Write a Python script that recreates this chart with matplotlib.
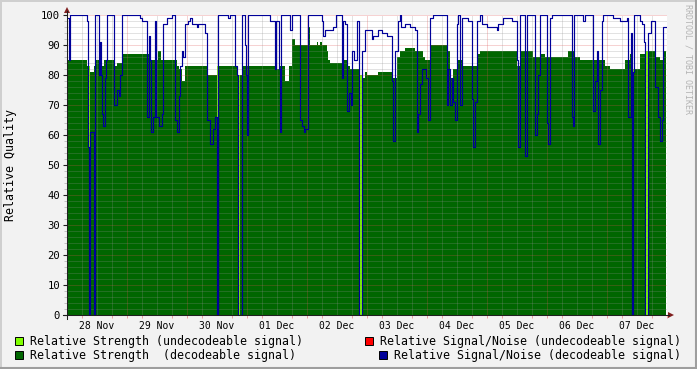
import numpy as np
import matplotlib
matplotlib.use("Agg")
import matplotlib.pyplot as plt
from matplotlib.patches import Rectangle, Polygon
from matplotlib.lines import Line2D

# ---------------- data ----------------
day_labels = ["28 Nov", "29 Nov", "30 Nov", "01 Dec", "02 Dec",
              "03 Dec", "04 Dec", "05 Dec", "06 Dec", "07 Dec"]
span_hours = 240.0
data_end = 239.6

# relative strength (hours since 28 Nov 00:00, value) - step data
strength_t = [0.0, 8.0, 9.2, 10.8, 11.2, 12.8, 14.8, 18.8, 20.0, 22.0,
              32.8, 36.4, 37.6, 44.0, 44.8, 46.0, 47.2, 56.0, 60.0, 68.0,
              70.0, 83.2, 85.2, 87.2, 88.8, 90.0, 91.2, 96.4, 97.2, 100.0,
              100.4, 101.2, 102.0, 104.0, 104.4, 105.2, 110.4, 112.0, 113.2, 117.2,
              118.0, 119.2, 120.0, 124.4, 130.4, 132.0, 133.2, 135.2, 139.2, 142.4,
              143.2, 145.2, 152.0, 153.2, 154.4, 156.4, 158.0, 164.0, 165.2, 180.0,
              181.2, 186.4, 189.2, 191.2, 200.4, 203.2, 205.2, 215.2, 217.2, 223.2,
              225.2, 226.4, 229.2, 231.2, 235.2, 237.2, 238.4]
strength_v = [85, 83, 81, 83, 85, 83, 85, 83, 84, 87,
              85, 88, 85, 83, 82, 78, 83, 80, 83, 80,
              83, 82, 83, 78, 83, 92, 90, 96, 90, 91,
              90, 91, 90, 88, 85, 84, 85, 83, 82, 80,
              79, 81, 80, 81, 79, 86, 88, 89, 88, 86,
              85, 90, 88, 79, 82, 85, 83, 87, 88, 83,
              88, 86, 87, 86, 88, 86, 85, 83, 82, 85,
              87, 82, 87, 88, 86, 85, 88]

# periods with undecodeable signal (hours)
undec_start = [8.6, 60.0, 68.6, 117.2, 226.4, 231.6]
undec_end = [9.0, 60.4, 69.0, 118.0, 226.8, 232.2]

# relative signal/noise (decodeable), step data
snr_t = [0.0, 0.8, 1.2, 8.0, 8.4, 8.7, 9.1, 10.8, 11.2, 12.8,
         13.2, 13.6, 13.8, 14.4, 15.2, 15.6, 16.0, 18.8, 20.0, 20.8,
         21.2, 22.0, 29.2, 30.0, 32.0, 32.8, 33.2, 33.6, 34.4, 35.2,
         35.6, 36.8, 38.0, 38.4, 40.0, 42.0, 43.2, 44.0, 44.8, 45.2,
         46.0, 46.4, 47.2, 48.4, 49.2, 50.0, 52.0, 52.4, 55.2, 56.0,
         57.2, 58.4, 59.2, 60.0, 60.4, 64.4, 65.2, 67.2, 68.0, 68.4,
         70.0, 71.2, 71.6, 72.0, 72.4, 81.2, 83.2, 83.6, 84.8, 85.2,
         85.6, 89.2, 90.0, 93.2, 94.0, 94.8, 95.2, 96.4, 102.0, 102.4,
         103.2, 106.4, 107.6, 110.0, 110.4, 111.2, 112.0, 112.8, 113.6, 114.0,
         114.8, 116.0, 116.8, 118.0, 119.2, 122.0, 122.4, 124.4, 126.0, 128.0,
         130.0, 130.4, 131.2, 132.4, 133.2, 133.6, 135.2, 137.2, 139.2, 140.0,
         140.4, 141.2, 142.0, 143.6, 144.4, 145.2, 146.4, 152.0, 152.4, 153.2,
         154.0, 154.4, 155.2, 156.0, 156.4, 157.2, 158.0, 160.4, 162.0, 162.4,
         163.2, 164.0, 165.2, 166.0, 168.0, 172.0, 172.4, 174.4, 178.0, 180.0,
         180.4, 181.2, 183.2, 184.0, 187.2, 188.0, 188.4, 189.2, 192.0, 192.4,
         193.2, 194.0, 202.0, 202.4, 202.8, 206.4, 207.2, 210.4, 211.2, 212.0,
         212.4, 213.2, 214.0, 214.4, 218.4, 221.2, 224.0, 224.4, 225.6, 226.0,
         226.4, 226.8, 229.2, 230.0, 230.8, 231.2, 232.4, 233.6, 235.2, 236.4,
         237.2, 238.0, 238.4]
snr_v = [99, 85, 100, 98, 56, 0, 61, 0, 100, 80,
         91, 80, 67, 63, 79, 85, 100, 70, 75, 73,
         80, 100, 99, 98, 66, 93, 85, 61, 66, 98,
         66, 63, 67, 97, 99, 100, 65, 61, 73, 83,
         88, 86, 97, 98, 99, 97, 96, 97, 94, 65,
         57, 62, 66, 0, 100, 99, 100, 83, 80, 0,
         100, 90, 80, 60, 100, 98, 82, 98, 82, 61,
         100, 95, 100, 65, 63, 61, 62, 100, 98, 93,
         95, 96, 100, 79, 98, 97, 68, 74, 70, 88,
         85, 98, 0, 88, 95, 92, 93, 95, 94, 93,
         78, 58, 88, 98, 100, 96, 97, 96, 95, 61,
         67, 77, 82, 79, 65, 99, 100, 70, 82, 70,
         79, 71, 65, 97, 100, 70, 99, 98, 72, 56,
         71, 98, 100, 97, 96, 95, 97, 99, 98, 85,
         56, 100, 53, 100, 60, 67, 80, 100, 64, 57,
         99, 100, 66, 63, 100, 98, 100, 68, 78, 88,
         57, 75, 98, 100, 99, 98, 99, 66, 94, 0,
         81, 100, 98, 97, 91, 0, 94, 98, 76, 66,
         58, 65, 96]

y_ticks = [0, 10, 20, 30, 40, 50, 60, 70, 80, 90, 100]

legend_labels = ["Relative Strength (undecodeable signal)",
                 "Relative Strength  (decodeable signal)",
                 "Relative Signal/Noise (undecodeable signal)",
                 "Relative Signal/Noise (decodeable signal)"]

# ---------------- style ----------------
W, H, DPI = 697, 369, 100
C_BACK = "#f2f2f2"
C_GRID = (0.56, 0.56, 0.56, 0.5)
C_MGRID = (0.87, 0.31, 0.31, 0.5)
C_ARROW = "#801f1f"
C_AXIS = "#1f1f1f"
C_GREEN = "#006600"
C_LGREEN = "#80ff00"
C_RED = "#ff0000"
C_BLUE = "#000099"
MONO = "DejaVu Sans Mono"


def fx(px):
    return px / W


def fy(py):
    return 1 - py / H


def step_eval(bt, bv, t):
    idx = np.searchsorted(np.asarray(bt), t, side="right") - 1
    return np.asarray(bv, dtype=float)[np.clip(idx, 0, len(bv) - 1)]


fig = plt.figure(figsize=(W / DPI, H / DPI), dpi=DPI, facecolor=C_BACK)
ax = fig.add_axes([fx(67), fy(315), 600 / W, 300 / H])
ax.set_facecolor("white")
ax.set_xlim(0, span_hours)
ax.set_ylim(0, 100)
for s in ax.spines.values():
    s.set_visible(False)

# areas
t_all = np.unique(np.concatenate([strength_t, undec_start, undec_end, [data_end]]))
s_all = step_eval(strength_t, strength_v, t_all)
mask = np.zeros_like(t_all, dtype=bool)
for a, b in zip(undec_start, undec_end):
    mask |= (t_all >= a - 1e-9) & (t_all < b - 1e-9)
s_dec = np.where(mask, 0.0, s_all)
s_und = np.where(mask, s_all, 0.0)
ax.fill_between(t_all, 0, s_dec, step="post", color=C_GREEN, lw=0, zorder=1)
ax.fill_between(t_all, 0, s_und, step="post", color=C_LGREEN, lw=0, zorder=1)

# grid
dash = (0, (1, 1))
for y in range(2, 101, 2):
    if y % 10:
        ax.axhline(y, color=C_GRID, lw=0.72, ls=dash, zorder=2)
    else:
        ax.axhline(y, color=C_MGRID, lw=0.72, ls=dash, zorder=2)
for h in range(6, 240, 6):
    if h % 24:
        ax.axvline(h, color=C_GRID, lw=0.72, ls=dash, zorder=2)
    else:
        ax.axvline(h, color=C_MGRID, lw=0.72, ls=dash, zorder=2)

# SNR line
tb = list(snr_t) + [data_end]
vb = list(snr_v) + [snr_v[-1]]
ax.step(tb, vb, where="post", color=C_BLUE, lw=0.85, zorder=3)

# ticks and labels
ax.set_yticks(y_ticks)
ax.set_yticklabels([str(v) for v in y_ticks], family=MONO, fontsize=7.6)
ax.set_yticks(range(0, 101, 2), minor=True)
ax.tick_params(axis="y", which="major", length=3, width=0.8, color=C_AXIS, pad=2)
ax.tick_params(axis="y", which="minor", length=2, width=0.7, color=C_GRID)
noon = [12 + 24 * i for i in range(len(day_labels))]
ax.set_xticks(noon)
ax.set_xticklabels(day_labels, family=MONO, fontsize=7.0)
ax.tick_params(axis="x", which="major", length=0, pad=4)
ax.set_xticks(range(0, 241, 6), minor=True)
ax.tick_params(axis="x", which="minor", length=2, width=0.7, color=C_MGRID)

fig.text(fx(11), fy(165), "Relative Quality", rotation=90, family=MONO,
         fontsize=8.4, ha="center", va="center")
fig.text(fx(688), fy(4), "RRDTOOL / TOBI OETIKER", rotation=-90, family=MONO,
         fontsize=6.0, ha="center", va="top", color="#b4b4b4")

# axes lines + arrows
fig.add_artist(Line2D([fx(63), fx(669)], [fy(315), fy(315)], color=C_AXIS, lw=0.75))
fig.add_artist(Line2D([fx(67), fx(67)], [fy(319), fy(11)], color=C_AXIS, lw=0.75))
fig.add_artist(Polygon([(fx(668), fy(312)), (fx(668), fy(318)), (fx(674), fy(315))],
                       closed=True, color=C_ARROW, lw=0))
fig.add_artist(Polygon([(fx(64), fy(13)), (fx(70), fy(13)), (fx(67), fy(7))],
                       closed=True, color=C_ARROW, lw=0))

# frame shading
fig.add_artist(Line2D([fx(0), fx(697)], [fy(0.5), fy(0.5)], color="#cfcfcf", lw=1.4))
fig.add_artist(Line2D([fx(0.5), fx(0.5)], [fy(0), fy(369)], color="#cfcfcf", lw=1.4))
fig.add_artist(Line2D([fx(0), fx(697)], [fy(368), fy(368)], color="#9e9e9e", lw=1.5))
fig.add_artist(Line2D([fx(696), fx(696)], [fy(0), fy(369)], color="#9e9e9e", lw=1.5))

# legend
legend_items = [
    (15, 337, C_LGREEN, 30, 344.5, legend_labels[0]),
    (15, 351, C_GREEN, 30, 358.5, legend_labels[1]),
    (365, 337, C_RED, 380, 344.5, legend_labels[2]),
    (379, 351, C_BLUE, 394, 358.5, legend_labels[3]),
]
for bx, by, col, tx, ty, lab in legend_items:
    fig.add_artist(Rectangle((fx(bx), fy(by + 8)), 8 / W, 8 / H,
                             facecolor=col, edgecolor="black", lw=0.7,
                             transform=fig.transFigure))
    fig.text(fx(tx), fy(ty), lab, family=MONO, fontsize=8.4, va="baseline", ha="left")

fig.savefig("out.png", dpi=DPI, facecolor=C_BACK)
